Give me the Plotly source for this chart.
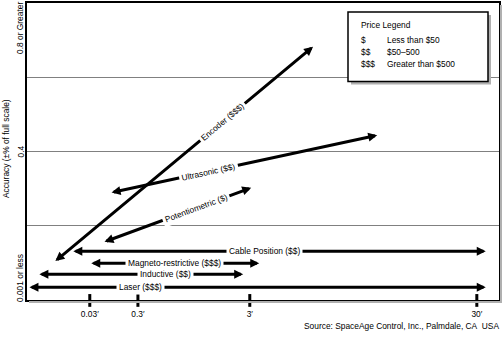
import math
import plotly.graph_objects as go

# Position-sensor technologies: each arrow spans a range of measuring length (x)
# and accuracy (y), both on a 0-100 schematic scale.
sensors = ["Laser ($$$)", "Inductive ($$)", "Magneto-restrictive ($$$)",
           "Cable Position ($$)", "Potentiometric ($)", "Ultrasonic ($$)",
           "Encoder ($$$)"]
x_start = [0.2, 2.3, 13.3, 9.5, 16.1, 17.6, 5.7]
x_end = [97.2, 45.8, 49.2, 97.2, 47.5, 74.2, 60.6]
y_start = [4.3, 8.7, 12.4, 16.4, 19.4, 36.1, 12.7]
y_end = [4.3, 8.7, 12.4, 16.4, 37.8, 55.5, 85.3]
label_frac = [0.245, 0.62, 0.50, 0.466, 0.63, 0.367, 0.65]

# Measuring-length axis
length_ticks = [13.3, 23.5, 47.2, 95.3]
length_labels = ["0.03\u2032", "0.3\u2032", "3\u2032", "30\u2032"]

# Accuracy axis
accuracy_grid = [25, 50, 75]
accuracy_ticks = [7.4, 50, 91.6]
accuracy_labels = ["0.001 or less", "0.4", "0.8 or Greater"]

legend_symbols = ["$", "$$", "$$$"]
legend_ranges = ["Less than $50", "$50\u2013500", "Greater than $500"]

FONT = "Liberation Sans, Arial, Helvetica, sans-serif"
FS = 8.4
W, H = 503, 339
ML, MR, MT, MB = 27, 4, 1, 39
PW, PH = W - ML - MR, H - MT - MB


def px(x):
    return (x - ML) / PW


def py(y):
    return (H - MB - y) / PH


def txt_font(size=FS):
    return dict(family=FONT, size=size, color="black")


fig = go.Figure()

# arrows (double-headed)
for x0, y0, x1, y1 in zip(x_start, y_start, x_end, y_end):
    fig.add_annotation(x=x1, y=y1, ax=x0, ay=y0, xref="x", yref="y",
                       axref="x", ayref="y", text="", showarrow=True,
                       arrowhead=2, arrowsize=0.6, arrowwidth=3,
                       arrowside="end+start", startarrowhead=2,
                       startarrowsize=0.6, standoff=0, startstandoff=0,
                       arrowcolor="black")

# labels sitting on the arrows
for name, x0, y0, x1, y1, f in zip(sensors, x_start, y_start, x_end, y_end, label_frac):
    lx = x0 + f * (x1 - x0)
    ly = y0 + f * (y1 - y0)
    ang = -math.degrees(math.atan2((y1 - y0) * PH / 100, (x1 - x0) * PW / 100))
    fig.add_annotation(x=lx, y=ly, xref="x", yref="y", text=name,
                       showarrow=False, textangle=ang, bgcolor="white",
                       borderpad=2, font=txt_font())

# tick marks crossing the length axis
for t in length_ticks:
    fig.add_shape(type="line", xref="x", yref="paper", x0=t, x1=t,
                  y0=-0.023, y1=0.02, line=dict(color="black", width=3))

# accuracy labels
for v, lab in zip(accuracy_ticks, accuracy_labels):
    fig.add_annotation(x=0, y=v, xref="paper", yref="y", xshift=-7,
                       xanchor="center", yanchor="middle",
                       text=lab, showarrow=False, textangle=-90,
                       font=txt_font())
fig.add_annotation(x=0, y=py(148), xref="paper", yref="paper", xshift=-21,
                   xanchor="center", yanchor="middle",
                   text="Accuracy (\u00b1% of full scale)", showarrow=False,
                   textangle=-90, font=txt_font())

# frame shadow
fig.add_shape(type="line", xref="paper", yref="paper", x0=px(501), x1=px(501),
              y0=py(302), y1=py(3), line=dict(color="#b0b0b0", width=2))
fig.add_shape(type="line", xref="paper", yref="paper", x0=px(29), x1=px(502),
              y0=py(302), y1=py(302), line=dict(color="#b0b0b0", width=2))

# price legend box
fig.add_shape(type="rect", xref="paper", yref="paper", x0=px(351), x1=px(491),
              y0=py(83), y1=py(13), fillcolor="#b0b0b0", line=dict(width=0))
fig.add_shape(type="rect", xref="paper", yref="paper", x0=px(348), x1=px(488),
              y0=py(80), y1=py(10), fillcolor="white",
              line=dict(color="black", width=1.5))
fig.add_annotation(x=px(359), y=py(23), xref="paper", yref="paper",
                   text="Price Legend", showarrow=False, xanchor="left",
                   yanchor="middle", font=txt_font())
for i, (s, r) in enumerate(zip(legend_symbols, legend_ranges)):
    yy = py(38 + 12 * i)
    fig.add_annotation(x=px(359), y=yy, xref="paper", yref="paper", text=s,
                       showarrow=False, xanchor="left", yanchor="middle",
                       font=txt_font())
    fig.add_annotation(x=px(385), y=yy, xref="paper", yref="paper", text=r,
                       showarrow=False, xanchor="left", yanchor="middle",
                       font=txt_font())

# source note
fig.add_annotation(x=1, y=py(326), xref="paper", yref="paper", xshift=2,
                   text="Source: SpaceAge Control, Inc., Palmdale, CA\u00a0\u00a0USA",
                   showarrow=False, xanchor="right", yanchor="middle",
                   font=txt_font())

fig.update_layout(
    width=W, height=H,
    margin=dict(l=ML, r=MR, t=MT, b=MB),
    paper_bgcolor="white", plot_bgcolor="white",
    showlegend=False,
    font=txt_font(),
    xaxis=dict(range=[0, 100], showgrid=False, zeroline=False,
               showline=True, mirror=True, linecolor="black", linewidth=1.5,
               tickvals=length_ticks, ticktext=length_labels, ticks="",
               ticklabelstandoff=5, tickfont=txt_font()),
    yaxis=dict(range=[0, 100], showgrid=True, gridcolor="#808080",
               gridwidth=1, zeroline=False, showline=True, mirror=True,
               linecolor="black", linewidth=1.5, tickvals=accuracy_grid,
               showticklabels=False, ticks=""),
)

fig.write_html("out.html")
